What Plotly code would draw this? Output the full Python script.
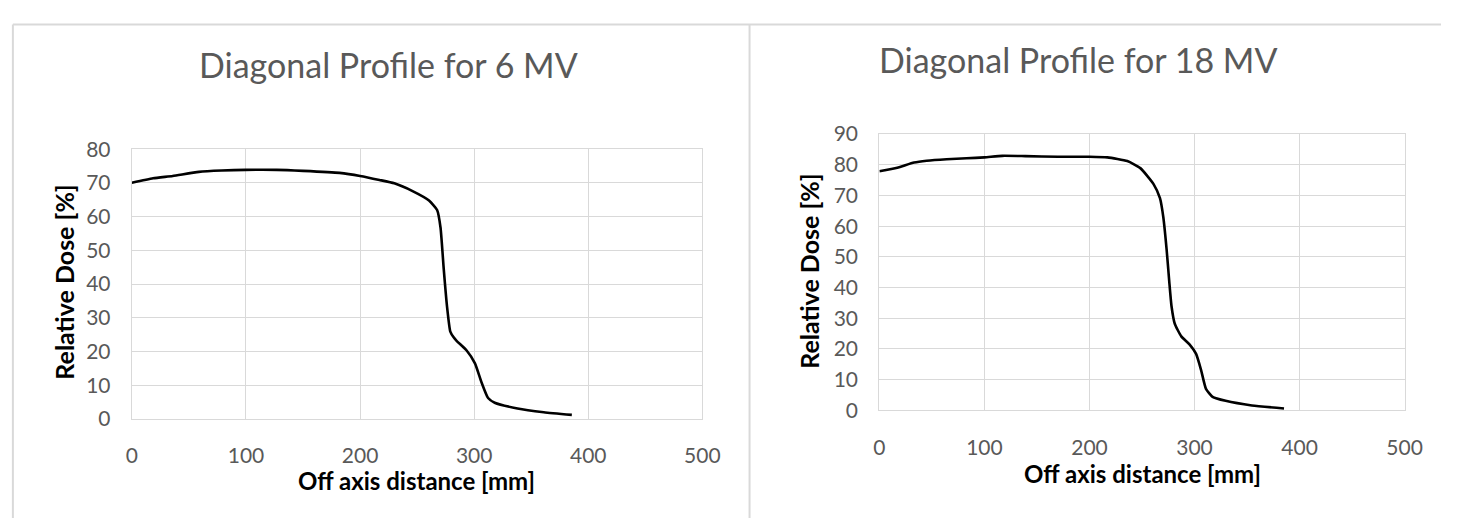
import plotly.graph_objects as go

# 6 MV diagonal profile: off-axis distance [mm] vs relative dose [%]
dist_6mv = [0, 18.6, 35.8, 58.7, 78.8, 99.7, 127, 150, 182, 200, 217, 230, 246, 260.4,
            267.5, 270.5, 273.3, 276.2, 279.1, 282, 284.8, 293.4, 300.7, 306.4, 312.2, 318,
            338, 361, 385.6]
dose_6mv = [70.1, 71.4, 72.1, 73.3, 73.7, 73.9, 73.9, 73.6, 73.0, 72.1, 70.9, 69.9, 67.6, 64.8,
            62.0, 56.8, 44.6, 33.4, 25.9, 24.2, 23.1, 20.3, 16.5, 10.9, 6.2, 4.8,
            3.1, 2.0, 1.2]

# 18 MV diagonal profile
dist_18mv = [0, 17, 33, 45, 64, 83, 100, 117, 139, 170, 200, 217, 236, 248.4, 261, 267.1,
             270.3, 273.4, 275.9, 278.1, 281.2, 287.4, 295.2, 301.5, 306.2, 310.9, 317.2,
             329.6, 354.6, 385.2]
dose_18mv = [77.9, 79.0, 80.7, 81.3, 81.8, 82.1, 82.4, 82.9, 82.8, 82.6, 82.6, 82.4, 81.2, 78.9,
             73.7, 69.1, 62.9, 52.5, 42.2, 33.9, 28.2, 24.1, 21.5, 18.4, 13.2, 7.0, 4.4,
             3.1, 1.6, 0.6]

titles = ["Diagonal Profile for 6 MV", "Diagonal Profile for 18 MV"]
x_title = "Off axis distance [mm]"
y_title = "Relative Dose [%]"

W, H = 1459, 529
def px(x):
    return x / W
def py(y):
    return 1 - y / H

GRID = "#d9d9d9"
TXT = "#595959"
FONT = "Lato"

fig = go.Figure()
fig.add_trace(go.Scatter(x=dist_6mv, y=dose_6mv, mode="lines",
                         line=dict(color="black", width=2.6, shape="spline", smoothing=0.5),
                         xaxis="x", yaxis="y", showlegend=False))
fig.add_trace(go.Scatter(x=dist_18mv, y=dose_18mv, mode="lines",
                         line=dict(color="black", width=2.6, shape="spline", smoothing=0.5),
                         xaxis="x2", yaxis="y2", showlegend=False))

def xaxis(domain, anchor):
    return dict(domain=domain, anchor=anchor, range=[0, 500], dtick=100, tick0=0,
                showgrid=True, gridcolor=GRID, gridwidth=1.3,
                showline=True, linecolor=GRID, linewidth=1.3, mirror=True,
                zeroline=False, ticks="", ticklabelstandoff=18,
                tickfont=dict(family=FONT, size=21, color=TXT), fixedrange=True)

def yaxis(domain, anchor, top):
    return dict(domain=domain, anchor=anchor, range=[0, top], dtick=10, tick0=0,
                showgrid=True, gridcolor=GRID, gridwidth=1.3,
                showline=True, linecolor=GRID, linewidth=1.3, mirror=True,
                zeroline=False, ticks="", ticklabelstandoff=16,
                tickfont=dict(family=FONT, size=21, color=TXT), fixedrange=True)

fig.update_layout(
    width=W, height=H,
    margin=dict(l=0, r=0, t=0, b=0),
    paper_bgcolor="white", plot_bgcolor="white",
    xaxis=xaxis([px(128), px(708)], "y"),
    yaxis=yaxis([py(425), py(142)], "x", 80),
    xaxis2=xaxis([px(888), px(1422)], "y2"),
    yaxis2=yaxis([py(416), py(126)], "x2", 90),
)

# chart frames
frame = dict(type="line", xref="paper", yref="paper", line=dict(color=GRID, width=2))
fig.add_shape(x0=px(7), x1=1, y0=py(11), y1=py(11), **frame)
fig.add_shape(x0=px(7), x1=px(7), y0=py(11), y1=0, **frame)
fig.add_shape(x0=px(756), x1=px(756), y0=py(11), y1=0, **frame)

ann = []
for t, cx, cy in [(titles[0], 389, 53), (titles[1], 1090, 48)]:
    ann.append(dict(text=t, x=px(cx), y=py(cy), xref="paper", yref="paper",
                    xanchor="center", yanchor="middle", showarrow=False,
                    font=dict(family=FONT, size=34, color=TXT)))
for cx, cy in [(417, 490), (1155, 482)]:
    ann.append(dict(text="<b>" + x_title + "</b>", x=px(cx), y=py(cy), xref="paper", yref="paper",
                    xanchor="center", yanchor="middle", showarrow=False,
                    font=dict(family=FONT, size=24, color="black")))
for cx, cy in [(59, 282), (817, 270)]:
    ann.append(dict(text="<b>" + y_title + "</b>", x=px(cx), y=py(cy), xref="paper", yref="paper",
                    xanchor="center", yanchor="middle", showarrow=False, textangle=-90,
                    font=dict(family=FONT, size=25, color="black")))
fig.update_layout(annotations=ann)

fig.write_html("out.html", config={"displayModeBar": False})
